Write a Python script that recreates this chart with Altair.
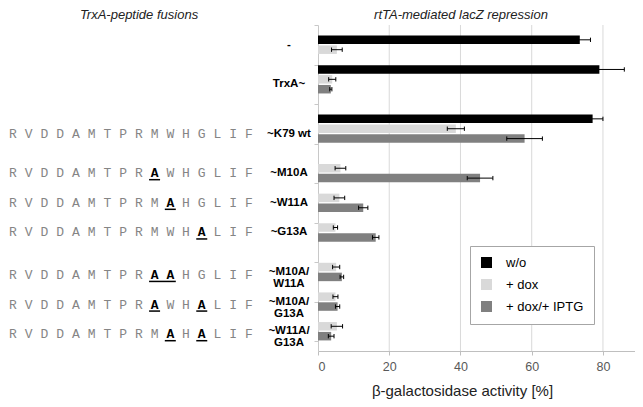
import re
import altair as alt
import pandas as pd

# ---------------- data ----------------
categories = ["-", "TrxA~", "~K79 wt", "~M10A", "~W11A", "~G13A",
              "~M10A/\nW11A", "~M10A/\nG13A", "~W11A/\nG13A"]
series = ["w/o", "+ dox", "+ dox/+ IPTG"]
colors = ["#000000", "#d9d9d9", "#808080"]

wo       = [73.5, 79.0, 77.1, None, None, None, None, None, None]
wo_err   = [3.0, 7.0, 2.9, None, None, None, None, None, None]
dox      = [5.3, 4.0, 38.7, 6.3, 6.0, 4.9, 5.1, 4.9, 5.3]
dox_err  = [1.5, 1.0, 2.4, 1.5, 1.5, 0.6, 1.0, 0.7, 1.6]
iptg     = [None, 3.6, 58.0, 45.5, 12.7, 16.2, 6.7, 5.5, 3.7]
iptg_err = [None, 0.3, 5.0, 3.6, 1.3, 0.9, 0.5, 0.6, 0.8]

gap_rows = [1, 0, 2, 1, 0, 0, 1, 0, 0]          # blank slots before each group
has_peptide = [False, False, True, True, True, True, True, True, True]
peptide = "RVDDAMTPRMWHGLIF"

x_ticks = [0, 10, 20, 30, 40, 50, 60, 70, 80]
x_labels = [0, 20, 40, 60, 80]
x_max = 89

left_title = "TrxA-peptide fusions"
right_title = "rtTA-mediated lacZ repression"
x_title = "β-galactosidase activity [%]"

# ---------------- layout ----------------
W, H = 317, 326
PXU = W / x_max                      # pixels per data unit on x
n_rows = sum(gap_rows) + 3 * len(categories) + 1
ROW_PX = H / n_rows
L0, LSTEP = -305, 15.73              # letter centres (px from plot origin)


def px(v):                           # pixel offset from plot origin -> x data units
    return v / PXU


bars, labels, letters, underlines = [], [], [], []
row = 0
for gi, cat in enumerate(categories):
    row += gap_rows[gi]
    start = row
    vals = [wo[gi], dox[gi], iptg[gi]]
    errs = [wo_err[gi], dox_err[gi], iptg_err[gi]]
    for si in range(3):
        if vals[si] is not None:
            r = start + si
            bars.append(dict(series=series[si], row=r, x0=0.0, value=vals[si],
                             lo=vals[si] - errs[si], hi=vals[si] + errs[si],
                             ylo=r - 0.43, yhi=r + 0.43, clo=r - 0.22, chi=r + 0.22))
    lab_y = start + 1.5 if iptg[gi] is not None else start + 0.5
    labels.append(dict(text=cat, y=lab_y, x=px(-29)))
    row = start + 3
    if has_peptide[gi]:
        seq_y = lab_y + (0.3 if "\n" in cat else 0.0)
        muts = sorted(int(m) - 1 for m in re.findall(r"[A-Z](\d+)A", cat))
        seq = list(peptide)
        for m in muts:
            seq[m] = "A"
        for i, ch in enumerate(seq):
            letters.append(dict(ch=ch, x=px(L0 + LSTEP * i), y=seq_y, mut=i in muts))
        segs = []
        for m in muts:
            if segs and m == segs[-1][1] + 1:
                segs[-1][1] = m
            else:
                segs.append([m, m])
        for a, b in segs:
            underlines.append(dict(x=px(L0 + LSTEP * a - 5.5),
                                   x2=px(L0 + LSTEP * b + 5.5),
                                   y=seq_y + 6.5 / ROW_PX))

bars_df = pd.DataFrame(bars)
labels_df = pd.DataFrame(labels)
letters_df = pd.DataFrame(letters)
under_df = pd.DataFrame(underlines)
grid_df = pd.DataFrame({"v": x_labels[1:]})

FONT = "Liberation Sans"

xscale = alt.Scale(domain=[0, x_max], nice=False, zero=False)
yscale = alt.Scale(domain=[-0.5, n_rows - 0.5], reverse=True, nice=False, zero=False)

grid = alt.Chart(grid_df).mark_rule(color="#d9d9d9", strokeWidth=1).encode(
    x=alt.X("v:Q", scale=xscale),
    y=alt.value(0), y2=alt.value(H))

rects = alt.Chart(bars_df).mark_rect().encode(
    x=alt.X("x0:Q", scale=xscale,
            axis=alt.Axis(values=x_ticks, grid=False, title=x_title,
                          labelExpr="datum.value % 20 == 0 ? datum.label : ''",
                          labelFont=FONT, labelFontSize=12.5, labelColor="#595959",
                          labelPadding=5, tickColor="#bfbfbf", domainColor="#bfbfbf",
                          tickSize=4, titleFont=FONT, titleFontSize=15,
                          titleFontWeight="normal", titleColor="#222222",
                          titleX=144, titleY=39, titleBaseline="middle",
                          titleAlign="center", titleAnchor="start")),
    x2="value:Q",
    y=alt.Y("ylo:Q", scale=yscale,
            axis=alt.Axis(values=[i - 0.5 for i in range(n_rows + 1)], labels=False,
                          title=None, grid=False, tickSize=4, tickColor="#c8c8c8",
                          domainColor="#c8c8c8")),
    y2="yhi:Q",
    color=alt.Color("series:N", scale=alt.Scale(domain=series, range=colors),
                    legend=alt.Legend(orient="none", legendX=152, legendY=221,
                                      title=None, symbolType="square", symbolSize=121,
                                      symbolStrokeWidth=0, labelFont=FONT,
                                      labelFontSize=13, labelColor="#000000",
                                      fillColor="white", strokeColor="#a6a6a6",
                                      padding=10, rowPadding=8, labelOffset=13)))

err = alt.Chart(bars_df).mark_rule(color="black", strokeWidth=1).encode(
    x="lo:Q", x2="hi:Q", y="row:Q")
cap_lo = alt.Chart(bars_df).mark_rule(color="black", strokeWidth=1).encode(
    x="lo:Q", y="clo:Q", y2="chi:Q")
cap_hi = alt.Chart(bars_df).mark_rule(color="black", strokeWidth=1).encode(
    x="hi:Q", y="clo:Q", y2="chi:Q")

cat_text = alt.Chart(labels_df).mark_text(
    font=FONT, fontSize=11.5, fontWeight="bold", align="center",
    baseline="middle", lineBreak="\n", lineHeight=12, color="black").encode(
    x="x:Q", y="y:Q", text="text:N")

seq_plain = alt.Chart(letters_df).transform_filter("!datum.mut").mark_text(
    font="Liberation Mono", fontSize=13, color="#858585", align="center",
    baseline="middle").encode(x="x:Q", y="y:Q", text="ch:N")
seq_mut = alt.Chart(letters_df).transform_filter("datum.mut").mark_text(
    font="Liberation Mono", fontSize=13, fontWeight="bold", color="black",
    align="center", baseline="middle").encode(x="x:Q", y="y:Q", text="ch:N")
under = alt.Chart(under_df).mark_rule(color="black", strokeWidth=1.5).encode(
    x="x:Q", x2="x2:Q", y="y:Q")

title_l = alt.Chart(pd.DataFrame({"t": [left_title]})).mark_text(
    font=FONT, fontSize=13, fontStyle="italic", align="center", baseline="middle",
    color="#222222").encode(x=alt.value(-179), y=alt.value(-10), text="t:N")
title_r = alt.Chart(pd.DataFrame({"t": [right_title]})).mark_text(
    font=FONT, fontSize=13, fontStyle="italic", align="center", baseline="middle",
    color="#222222").encode(x=alt.value(143), y=alt.value(-10), text="t:N")

chart = alt.layer(grid, rects, err, cap_lo, cap_hi, cat_text, seq_plain, seq_mut,
                  under, title_l, title_r).properties(
    width=W, height=H, autosize="none",
    padding={"left": 310, "top": 17, "right": 0, "bottom": 48},
    background="white").configure_view(stroke=None)

chart.save("out.html", embed_options={"renderer": "svg", "actions": False})
